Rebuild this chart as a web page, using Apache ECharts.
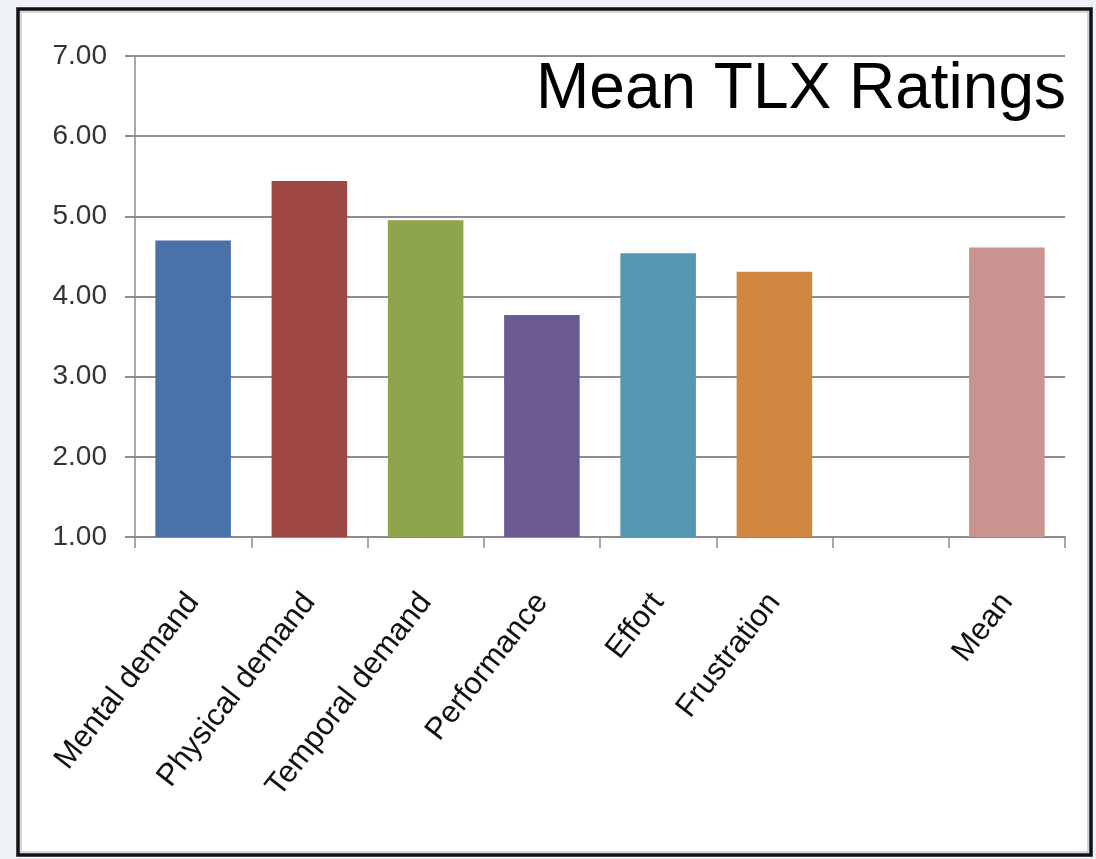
<!DOCTYPE html>
<html>
<head>
<meta charset="utf-8">
<title>Mean TLX Ratings</title>
<script src="https://cdn.jsdelivr.net/npm/echarts@6/dist/echarts.min.js"></script>
<style>
  html, body { margin: 0; padding: 0; background: #eef2f7; }
  #chart { width: 1096px; height: 859px; }
</style>
</head>
<body>
<div id="chart"></div>
<script>
// NASA-TLX subscales plus the overall mean (the blank slot separates them)
const categories = ['Mental demand', 'Physical demand', 'Temporal demand', 'Performance', 'Effort', 'Frustration', '', 'Mean'];
const ratings = [4.70, 5.44, 4.95, 3.77, 4.54, 4.31, null, 4.61];
const yTicks = { min: 1, max: 7, step: 1 };
const chartTitle = 'Mean TLX Ratings';

const palette = ['#4a72a8', '#9f4742', '#8fa54b', '#6c5a92', '#5596b0', '#d08740', '#999999', '#c99391'];

const chart = echarts.init(document.getElementById('chart'), null, { renderer: 'canvas' });

chart.setOption({
  backgroundColor: '#eef2f7',
  animation: false,
  graphic: [
    // white panel with dark frame
    {
      type: 'rect', z: -10,
      shape: { x: 18, y: 9, width: 1073, height: 846 },
      style: { fill: '#ffffff', stroke: '#111111', lineWidth: 3.5 }
    },
    {
      type: 'rect', z: -9,
      shape: { x: 21, y: 12, width: 1067, height: 840 },
      style: { fill: 'none', stroke: '#c8c8c8', lineWidth: 1.5 }
    },
    {
      type: 'text', z: 10,
      style: {
        text: chartTitle,
        x: 1066, y: 90,
        align: 'right', verticalAlign: 'middle',
        font: '64px "Liberation Sans", Arial, sans-serif',
        fill: '#000000'
      }
    }
  ],
  grid: { left: 135, right: 31, top: 56, bottom: 322, containLabel: false },
  xAxis: {
    type: 'category',
    data: categories,
    boundaryGap: true,
    axisLine: { show: true, lineStyle: { color: '#8c8c8c', width: 2 } },
    axisTick: { show: true, length: 11, alignWithLabel: false, interval: 0, lineStyle: { color: '#8c8c8c', width: 1.5 } },
    axisLabel: {
      interval: 0,
      rotate: 52,
      margin: 60,
      color: '#111111',
      fontFamily: '"Liberation Sans", Arial, sans-serif',
      fontSize: 31
    },
    splitLine: { show: false }
  },
  yAxis: {
    type: 'value',
    min: yTicks.min,
    max: yTicks.max,
    interval: yTicks.step,
    axisLine: { show: true, lineStyle: { color: '#8c8c8c', width: 1.5 } },
    axisTick: { show: true, inside: false, length: 10, lineStyle: { color: '#8c8c8c', width: 2 } },
    axisLabel: {
      margin: 28,
      color: '#333333',
      fontFamily: '"Liberation Sans", Arial, sans-serif',
      fontSize: 28,
      formatter: v => v.toFixed(2)
    },
    splitLine: { show: true, lineStyle: { color: '#8c8c8c', width: 2 } }
  },
  series: [{
    type: 'bar',
    data: ratings.map((v, i) => ({ value: v, itemStyle: { color: palette[i] } })),
    barWidth: '65%',
    z: 3
  }]
});
</script>
</body>
</html>
